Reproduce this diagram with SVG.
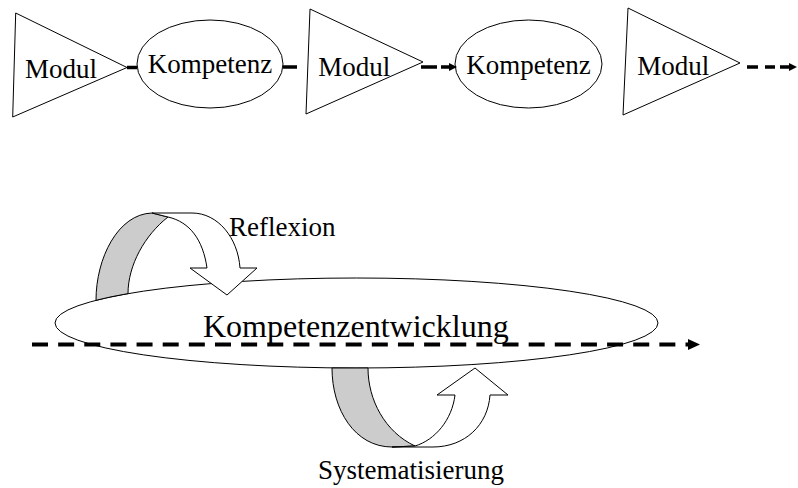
<svg xmlns="http://www.w3.org/2000/svg" width="798" height="488" viewBox="0 0 798 488">
<style>
.shape{fill:#ffffff;stroke:#000000;stroke-width:1}
.grey{fill:#cccccc;stroke:#000000;stroke-width:1}
.lbl{font-family:"Liberation Serif","Times New Roman",serif;font-size:27px;fill:#000000}
.big{font-family:"Liberation Serif","Times New Roman",serif;font-size:32px;fill:#000000}
.thick{fill:none;stroke:#000000;stroke-width:3.5}
.dash{fill:none;stroke:#000000;stroke-width:4;stroke-dasharray:16 10.14}
</style>
<defs>
<marker id="arr" markerUnits="userSpaceOnUse" viewBox="0 0 8 8" refX="0" refY="4" markerWidth="8" markerHeight="8" orient="auto">
<path d="M0,0 L8,4 L0,8 Z" fill="#000000"/>
</marker>
<marker id="arrBig" markerUnits="userSpaceOnUse" viewBox="0 0 12 11" refX="0" refY="5.5" markerWidth="12" markerHeight="11" orient="auto">
<path d="M0,0 L12,5.5 L0,11 Z" fill="#000000"/>
</marker>
</defs>

<g id="modul1">
<polygon class="shape" points="15.7,13 12.7,117 127,67.5"/>
<text class="lbl" x="25" y="77.5">Modul</text>
</g>
<g id="kompetenz1">
<ellipse class="shape" cx="210" cy="64" rx="73" ry="44"/>
<text class="lbl" x="210" y="73" text-anchor="middle">Kompetenz</text>
</g>
<g id="modul2">
<polygon class="shape" points="310,9 306,114 423,62"/>
<text class="lbl" x="318.3" y="75.5">Modul</text>
</g>
<g id="kompetenz2">
<ellipse class="shape" cx="528.5" cy="64" rx="73.5" ry="44"/>
<text class="lbl" x="528.5" y="74" text-anchor="middle">Kompetenz</text>
</g>
<g id="modul3">
<polygon class="shape" points="628,8 623,115 740,63"/>
<text class="lbl" x="637.3" y="75">Modul</text>
</g>

<g id="kompetenzentwicklung">
<ellipse class="shape" cx="356.5" cy="323" rx="301.5" ry="45"/>
<text class="big" x="203" y="337">Kompetenzentwicklung</text>
</g>

<g id="connectors">
<path class="thick" d="M127,67.5 H137 M283,67 H297"/>
<path class="thick" d="M421,67 H437 M441,67 H449" marker-end="url(#arr)"/>
<path class="thick" d="M747,67 H758 M765,67 H775 M780,67 H789" marker-end="url(#arr)"/>
<path class="dash" d="M32,344.5 H688" marker-end="url(#arrBig)"/>
</g>

<g id="reflexion">
<path class="grey" d="M96,300.3 C96,258 118,214 152,213 L168,217 C145,235 128,265 128,293.6 A301.5 45 0 0 0 96,300.3 Z"/>
<path class="shape" d="M152,213 L192,213 C218,213 238,238 240,268 L257,268 L227,295 L190,268 L207,268 C203,240 190,222 168,217 Z"/>
<text class="lbl" x="229" y="236">Reflexion</text>
</g>

<g id="systematisierung">
<path class="grey" d="M332,368 C332,410 355,447 392,447 L415,446 C385,432 368,400 368,368 Z"/>
<path class="shape" d="M415,446 L392,447 L433,447 C465,447 488,425 490,395 L508,395 L475,368 L437,395 L455,395 C452,420 435,440 415,446 Z"/>
<text class="lbl" x="318" y="479">Systematisierung</text>
</g>
</svg>
